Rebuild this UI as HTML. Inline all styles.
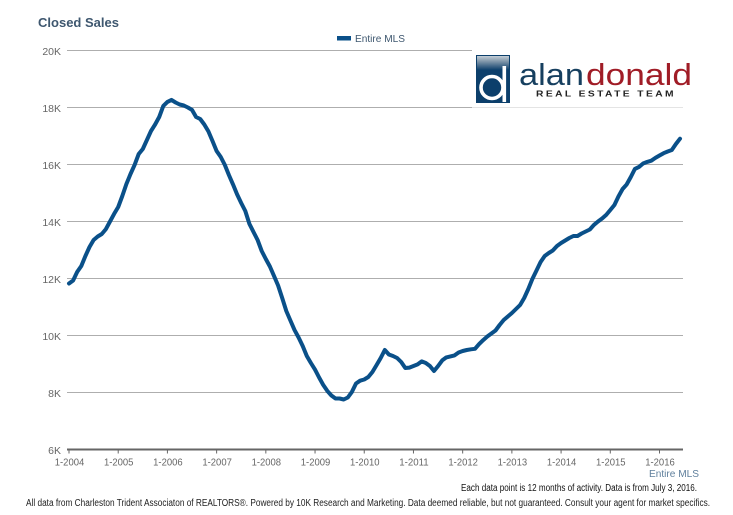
<!DOCTYPE html>
<html lang="en">
<head>
<meta charset="utf-8">
<title>Closed Sales</title>
<style>
html,body{margin:0;padding:0;background:#fff;}
body{width:733px;height:515px;overflow:hidden;}
svg{display:block;font-family:"Liberation Sans",Arial,sans-serif;}
</style>
</head>
<body>
<svg id="chart" xmlns="http://www.w3.org/2000/svg" width="733" height="515" viewBox="0 0 733 515">
  <defs>
    <linearGradient id="badgeSheen" x1="0" y1="0" x2="0" y2="1">
      <stop offset="0" stop-color="#c4ced6"/>
      <stop offset="0.4" stop-color="#7d94a8"/>
      <stop offset="1" stop-color="#0c3f6b"/>
    </linearGradient>
  </defs>
  <rect x="0" y="0" width="733" height="515" fill="#ffffff"/>
  <text x="38" y="27" font-size="13" font-weight="bold" fill="#3e576f" textLength="81" lengthAdjust="spacingAndGlyphs">Closed Sales</text>
  <g id="grid"></g>
  <g id="yaxis"></g>
  <g id="xaxis"></g>
  <g id="plot"></g>
  <g>
    <rect x="337" y="36" width="14" height="4.5" fill="#0a5089"/>
    <text x="355" y="42" font-size="10.5" fill="#3e576f" textLength="50" lengthAdjust="spacingAndGlyphs">Entire MLS</text>
  </g>
  <g>
    <rect x="472" y="46" width="228" height="60.5" fill="#ffffff"/>
    <rect x="476" y="55" width="34" height="48" fill="#0c3f6b"/>
    <rect x="477" y="56" width="32" height="14" fill="url(#badgeSheen)"/>
    <circle cx="492" cy="87.5" r="11" fill="none" stroke="#ffffff" stroke-width="3.6"/>
    <rect x="502.5" y="66" width="3.6" height="36" fill="#ffffff"/>
    <text x="519" y="85" font-size="31" fill="#163f5f" textLength="65" lengthAdjust="spacingAndGlyphs">alan</text>
    <text x="586" y="85" font-size="31" fill="#a01c26" textLength="106" lengthAdjust="spacingAndGlyphs">donald</text>
    <text x="536" y="96.7" font-size="8.5" font-weight="bold" letter-spacing="2" fill="#222222" textLength="140" lengthAdjust="spacingAndGlyphs">REAL ESTATE TEAM</text>
    <line x1="472" y1="107.5" x2="683" y2="107.5" stroke="#e4e4e4" stroke-width="1"/>
  </g>
  <text x="649" y="477" font-size="10.5" fill="#5f7f9c" textLength="50" lengthAdjust="spacingAndGlyphs">Entire MLS</text>
  <text x="461" y="491" font-size="10" fill="#111111" textLength="236" lengthAdjust="spacingAndGlyphs">Each data point is 12 months of activity. Data is from July 3, 2016.</text>
  <text x="26" y="506" font-size="10" fill="#222222" textLength="684" lengthAdjust="spacingAndGlyphs">All data from Charleston Trident Associaton of REALTORS®. Powered by 10K Research and Marketing. Data deemed reliable, but not guaranteed. Consult your agent for market specifics.</text>
</svg>
<script>
var yTicks = [6000, 8000, 10000, 12000, 14000, 16000, 18000, 20000];
var yLabels = ["6K", "8K", "10K", "12K", "14K", "16K", "18K", "20K"];
var xLabels = ["1-2004", "1-2005", "1-2006", "1-2007", "1-2008", "1-2009", "1-2010", "1-2011", "1-2012", "1-2013", "1-2014", "1-2015", "1-2016"];
var seriesName = "Entire MLS";
var closedSales = [
11825,11930,12230,12440,12790,13105,13350,13475,13560,13735,14000,14265,
14510,14895,15315,15665,15985,16370,16545,16860,17175,17405,17665,18055,
18195,18265,18175,18105,18070,18000,17915,17665,17595,17405,17160,16825,
16475,16265,15985,15630,15300,14950,14650,14370,13915,13630,13350,12965,
12685,12420,12090,11755,11315,10860,10525,10195,9930,9630,9280,9035,
8805,8525,8265,8055,7895,7790,7790,7755,7825,8020,8315,8415,
8455,8545,8720,8965,9210,9490,9335,9280,9210,9070,8860,8875,
8930,8985,9090,9035,8930,8755,8930,9125,9230,9265,9300,9405,
9455,9490,9515,9535,9700,9840,9965,10070,10175,10370,10545,10665,
10790,10930,11070,11315,11630,11985,12280,12580,12790,12895,12985,13140,
13245,13335,13420,13490,13490,13580,13650,13720,13880,14000,14105,14230,
14405,14580,14880,15140,15300,15560,15845,15915,16035,16090,16135,16230,
16315,16395,16455,16510,16720,16905
];

var NS = "http://www.w3.org/2000/svg";
var plotLeft = 69, plotRight = 680, plotTop = 50.5, plotBottom = 449.5;
var axisEnd = 683;
var monthsTotal = 149;
var yMin = 6000, yMax = 20000;

function xScale(month) {
  return plotLeft + (plotRight - plotLeft) * month / monthsTotal;
}
function yScale(value) {
  return plotBottom - (plotBottom - plotTop) * (value - yMin) / (yMax - yMin);
}
function make(tag, attrs, text) {
  var el = document.createElementNS(NS, tag);
  for (var k in attrs) { el.setAttribute(k, attrs[k]); }
  if (text !== undefined) { el.textContent = text; }
  return el;
}

var gridGroup = document.getElementById("grid");
var yGroup = document.getElementById("yaxis");
var xGroup = document.getElementById("xaxis");
var plotGroup = document.getElementById("plot");

yTicks.forEach(function (tick, i) {
  var y = yScale(tick);
  if (i > 0) {
    var gl = make("line", {x1: plotLeft - 2, y1: y, x2: axisEnd, y2: y, stroke: "#aeaeae", "stroke-width": 1});
    
    
    gridGroup.appendChild(gl);
  }
  var lab = make("text", {x: 61, y: y + 4.5, "font-size": 10.5, fill: "#666666", "text-anchor": "end"}, yLabels[i]);
  
  
  yGroup.appendChild(lab);
});

var axisLine = make("line", {x1: plotLeft - 2, y1: plotBottom, x2: axisEnd, y2: plotBottom, stroke: "#666666", "stroke-width": 2});


xGroup.appendChild(axisLine);

xLabels.forEach(function (label, i) {
  var x = xScale(i * 12);
  var t = make("line", {x1: x, y1: plotBottom, x2: x, y2: plotBottom + 4, stroke: "#666666", "stroke-width": 1});
  
  
  xGroup.appendChild(t);
  var lab = make("text", {x: x + 0.5, y: plotBottom + 16, "font-size": 10.5, fill: "#666666", "text-anchor": "middle", textLength: 29.5, lengthAdjust: "spacingAndGlyphs"}, label);
  
  
  xGroup.appendChild(lab);
});

var pts = closedSales.map(function (v, i) {
  return xScale(i).toFixed(1) + "," + yScale(v).toFixed(1);
}).join(" ");
var line = make("polyline", {points: pts, fill: "none", stroke: "#0a5089", "stroke-width": 4, "stroke-linejoin": "round", "stroke-linecap": "round"});


plotGroup.appendChild(line);
</script>
</body>
</html>
